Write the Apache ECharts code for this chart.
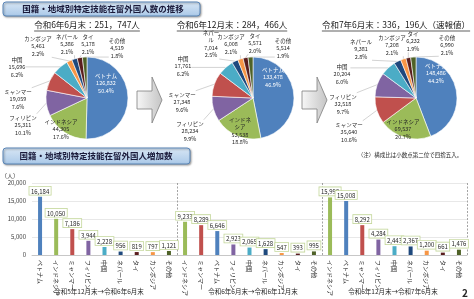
<!DOCTYPE html>
<html>
<head>
<meta charset="utf-8">
<script src="https://cdn.jsdelivr.net/npm/echarts@6/dist/echarts.min.js"></script>
<style>
html,body{margin:0;padding:0;background:#fff}
#main{width:474px;height:299px}
</style>
</head>
<body>
<div id="main"></div>
<script>
// 構成比（円グラフ）
var pie1Names = ['ベトナム','インドネシア','フィリピン','ミャンマー','中国','カンボジア','ネパール','タイ','その他'];
var pie1Values = [126832, 44305, 25311, 19059, 15696, 5461, 5386, 5178, 4519];
var pie2Names = ['ベトナム','インドネシア','フィリピン','ミャンマー','中国','ネパール','カンボジア','タイ','その他'];
var pie2Values = [133478, 53538, 28234, 27348, 17761, 7014, 6008, 5571, 5514];
var pie3Names = ['ベトナム','インドネシア','ミャンマー','フィリピン','中国','ネパール','カンボジア','タイ','その他'];
var pie3Values = [148486, 69537, 35640, 32518, 20204, 9381, 7208, 6232, 6990];
var pieTitles = ['令和6年6月末：251，747人', '令和6年12月末：284，466人', '令和7年6月末：336，196人（速報値）'];

// 増加数（棒グラフ）
var inc1Names = ['ベトナム','インドネシア','ミャンマー','フィリピン','中国','ネパール','タイ','カンボジア','その他'];
var inc1Values = [16184, 10050, 7186, 3944, 2228, 956, 819, 797, 1121];
var inc2Names = ['インドネシア','ミャンマー','ベトナム','フィリピン','中国','ネパール','カンボジア','タイ','その他'];
var inc2Values = [9233, 8289, 6646, 2923, 2065, 1628, 547, 393, 995];
var inc3Names = ['インドネシア','ベトナム','ミャンマー','フィリピン','中国','ネパール','カンボジア','タイ','その他'];
var inc3Values = [15999, 15008, 8292, 4284, 2443, 2367, 1200, 661, 1476];
var periodLabels = ['令和5年12月末→令和6年6月末', '令和6年6月末→令和6年12月末', '令和6年12月末→令和7年6月末'];

var FONT = '"Noto Sans CJK JP", "Noto Sans", sans-serif';
var colorOf = {
  'ベトナム': '#4f81bd', 'インドネシア': '#9bbb59', 'ミャンマー': '#c0504d', 'フィリピン': '#8064a2',
  '中国': '#4bacc6', 'ネパール': '#1f497d', 'タイ': '#5a1e1e', 'カンボジア': '#f79646', 'その他': '#4f6228'
};
var fmt = function (n) { return String(n).replace(/\B(?=(\d{3})+(?!\d))/g, ','); };

// label centers per pie, in data order
var pieCenters = [[87, 98], [253, 98], [416, 98]];
var labelPos = [
  [[106, 83], [61, 129], [23, 125], [18, 99], [17, 67], [38, 46], [67, 44], [88, 44], [117, 48]],
  [[273, 77], [240, 131], [190, 131], [182, 102], [183, 66], [211, 44], [231, 44], [255, 43], [283, 48]],
  [[436, 73], [403, 129], [349, 132], [343, 104], [342, 74], [361, 49], [392, 45], [413, 41], [447, 45]]
];
var labelWrap = [{}, {'ネパール': 'ネパー\nル', 'インドネシア': 'インドネ\nシア'}, {}];
var insideColor = {'ベトナム': '#ffffff', 'インドネシア': '#262626'};

function makeLayout(pos) {
  return function (params) {
    var p = pos[params.dataIndex];
    var w = params.labelRect.width, h = params.labelRect.height;
    var out = {x: p[0], y: p[1], align: 'center', verticalAlign: 'middle'};
    var pts = params.labelLinePoints;
    if (pts) {
      var s = pts[0];
      var ax = Math.max(p[0] - w / 2, Math.min(s[0], p[0] + w / 2));
      var ay = Math.max(p[1] - h / 2, Math.min(s[1], p[1] + h / 2));
      out.labelLinePoints = [s, [ax, ay], [ax, ay]];
    }
    return out;
  };
}

function pieSeries(k, names, values) {
  var total = values.reduce(function (a, b) { return a + b; }, 0);
  var data = names.map(function (n, i) {
    var inside = insideColor[n] != null;
    return {
      name: n, value: values[i],
      itemStyle: {color: colorOf[n]},
      label: {position: inside ? 'inside' : 'outside', color: inside ? insideColor[n] : '#262626'},
      labelLine: {show: !inside}
    };
  });
  return {
    type: 'pie', center: pieCenters[k], radius: 41, startAngle: 90, clockwise: true,
    avoidLabelOverlap: false, silent: true,
    itemStyle: {borderColor: '#fff', borderWidth: 0.6},
    label: {
      show: true, fontSize: 5.5, lineHeight: 7.5, align: 'center', fontFamily: FONT,
      formatter: function (p) {
        var nm = labelWrap[k][p.name] || p.name;
        return nm + '\n' + fmt(p.value) + '\n' + (p.value / total * 100).toFixed(1) + '%';
      }
    },
    labelLine: {length: 5, length2: 5, lineStyle: {color: '#a6a6a6', width: 0.5}},
    labelLayout: makeLayout(labelPos[k]),
    data: data
  };
}

var barNames = inc1Names.concat(inc2Names, inc3Names);
var barValues = inc1Values.concat(inc2Values, inc3Values);
var barData = barValues.map(function (v, i) {
  return {value: v, itemStyle: {color: colorOf[barNames[i]]}};
});

var measure = document.createElement('canvas').getContext('2d');
function textW(t, size) {
  measure.font = size + 'px ' + FONT;
  return measure.measureText(t).width;
}

var subX = [87, 232, 396];
var graphics = [];
function titleBox(x, y, w, h, text, cx) {
  graphics.push({
    type: 'rect', shape: {x: x, y: y, width: w, height: h, r: 3},
    style: {
      fill: {type: 'linear', x: 0, y: 0, x2: 0, y2: 1, colorStops: [{offset: 0, color: '#d9e7f5'}, {offset: 1, color: '#a9c8e8'}]},
      stroke: '#5a86b8', lineWidth: 1, shadowBlur: 2, shadowColor: 'rgba(0,0,0,0.35)', shadowOffsetX: 1, shadowOffsetY: 1
    }
  });
  graphics.push({
    type: 'text', x: cx, y: y + h / 2,
    style: {text: text, fontSize: 8.5, fontWeight: 'bold', fontFamily: FONT, fill: '#1a1a3a', textAlign: 'center', textVerticalAlign: 'middle'}
  });
}
titleBox(3, 2, 197, 14, '国籍・地域別特定技能在留外国人数の推移', 103);
titleBox(3, 148, 187, 16, '国籍・地域別特定技能在留外国人増加数', 96);

pieTitles.forEach(function (t, i) {
  var w = textW(t, 8.5);
  graphics.push({
    type: 'text', x: subX[i], y: 25,
    style: {text: t, fontSize: 8.5, fontFamily: FONT, fill: '#1a1a1a', textAlign: 'center', textVerticalAlign: 'middle'}
  });
  graphics.push({
    type: 'line', shape: {x1: subX[i] - w / 2, y1: 31, x2: subX[i] + w / 2, y2: 31},
    style: {stroke: '#1a1a1a', lineWidth: 0.7}
  });
});

function arrow(x, cy) {
  graphics.push({
    type: 'polygon',
    shape: {points: [[x, cy - 9], [x + 15, cy - 9], [x + 15, cy - 23], [x + 25, cy], [x + 15, cy + 23], [x + 15, cy + 9], [x, cy + 9]]},
    style: {
      fill: {type: 'linear', x: 0, y: 0, x2: 1, y2: 0, colorStops: [{offset: 0, color: '#f7f7f7'}, {offset: 1, color: '#c4c4c4'}]},
      stroke: '#7f7f7f', lineWidth: 0.8
    }
  });
}
arrow(137, 100);
arrow(302, 100);

graphics.push({type: 'text', x: 107, y: 115, style: {text: '（注）', fontSize: 5.5, fontFamily: FONT, fill: '#262626', textAlign: 'center', textVerticalAlign: 'middle'}});
graphics.push({type: 'text', x: 410, y: 155, style: {text: '（注）構成比は小数点第二位で四捨五入。', fontSize: 5.5, fontFamily: FONT, fill: '#262626', textAlign: 'center', textVerticalAlign: 'middle'}});
graphics.push({type: 'text', x: 10, y: 176, style: {text: '（人）', fontSize: 6, fontFamily: FONT, fill: '#404040', textAlign: 'center', textVerticalAlign: 'middle'}});
var capX = [99, 253, 393];
periodLabels.forEach(function (t, i) {
  graphics.push({type: 'text', x: capX[i], y: 292, style: {text: t, fontSize: 6.5, fontFamily: FONT, fill: '#262626', textAlign: 'center', textVerticalAlign: 'middle'}});
});
graphics.push({type: 'text', x: 465, y: 293, style: {text: '2', fontSize: 10, fontWeight: 'bold', fontFamily: FONT, fill: '#262626', textAlign: 'center', textVerticalAlign: 'middle'}});

var chart = echarts.init(document.getElementById('main'), null, {renderer: 'canvas'});
chart.setOption({
  animation: false,
  textStyle: {fontFamily: FONT},
  grid: {left: 32, right: 7, top: 183, bottom: 40, containLabel: false},
  xAxis: {
    type: 'category',
    data: barNames.map(function (n, i) { return 'c' + i; }),
    axisLine: {lineStyle: {color: '#bfbfbf', width: 0.8}},
    axisTick: {show: false},
    axisLabel: {
      interval: 0, rotate: -90, fontSize: 6, color: '#262626', margin: 5,
      formatter: function (v, i) { return barNames[i]; }
    },
    splitLine: {
      show: true,
      interval: function (index) { return index === 9 || index === 18; },
      lineStyle: {type: [2, 1.5], color: '#8c8c8c', width: 0.8}
    }
  },
  yAxis: {
    type: 'value', min: 0, max: 20000, interval: 5000,
    axisLine: {show: false}, axisTick: {show: false},
    axisLabel: {fontSize: 6, color: '#404040', margin: 6},
    splitLine: {lineStyle: {color: '#d9d9d9', width: 0.6}}
  },
  graphic: graphics,
  series: [
    {
      type: 'bar', data: barData, barWidth: 4, silent: true,
      label: {
        show: true, position: 'top', distance: 2, fontSize: 6, color: '#262626',
        backgroundColor: '#fff', borderColor: '#c4d79b', borderWidth: 0.8, padding: [1.5, 1.5, 0.5, 1.5],
        formatter: function (p) { return fmt(p.value); }
      }
    },
    pieSeries(0, pie1Names, pie1Values),
    pieSeries(1, pie2Names, pie2Values),
    pieSeries(2, pie3Names, pie3Values)
  ]
});
</script>
</body>
</html>
